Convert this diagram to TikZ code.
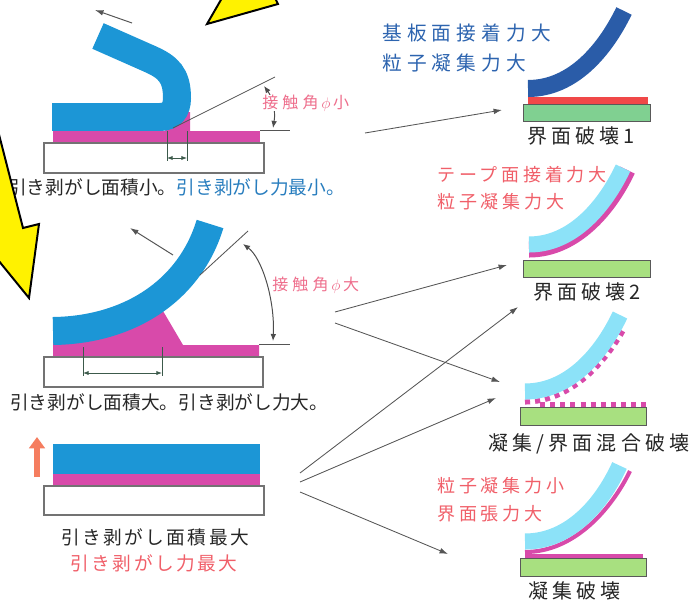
\documentclass[tikz,border=0pt]{standalone}
\usepackage{xcolor}
\usepackage{fontspec}
\usepackage{tikz}
\usetikzlibrary{positioning,calc,arrows.meta}
\newfontfamily\jp{Noto Sans CJK JP}
\newfontfamily\jpsp[LetterSpace=21]{Noto Sans CJK JP}
\newfontfamily\jpblue[LetterSpace=26]{Noto Sans CJK JP}
\newfontfamily\jpcap[LetterSpace=13]{Noto Sans CJK JP}
\definecolor{tapeblue}{RGB}{28,150,214}
\definecolor{gluepink}{RGB}{216,74,170}
\definecolor{darktape}{RGB}{42,92,168}
\definecolor{redlayer}{RGB}{240,72,72}
\definecolor{basegreen}{RGB}{128,208,145}
\definecolor{lightgreen}{RGB}{168,224,128}
\definecolor{lighttape}{RGB}{140,226,248}
\definecolor{textpink}{RGB}{240,95,105}
\definecolor{anglepink}{RGB}{238,110,140}
\definecolor{textblue}{RGB}{45,100,175}
\definecolor{captionblue}{RGB}{40,125,190}
\definecolor{linegray}{RGB}{85,85,85}
\definecolor{dimgray}{RGB}{60,90,75}
\definecolor{liftorange}{RGB}{245,125,95}

\begin{document}
\begin{tikzpicture}[x=0.025cm, y=-0.025cm,
    substrate/.style={draw=black!55, fill=white, line width=0.8pt},
    glue/.style={fill=gluepink},
    thicktape/.style={draw=tapeblue, line width=19.9pt},
    thintape/.style={draw=lighttape, line width=11.4pt},
    greenbase/.style={draw=black!65, fill=lightgreen, line width=0.7pt},
    pull/.style={draw=linegray, line width=0.7pt, -{Latex[length=6pt,width=4pt]}},
    link/.style={draw=linegray, line width=0.6pt, -{Latex[length=6pt,width=4pt]}},
    guide/.style={draw=linegray, line width=0.6pt},
    dimline/.style={draw=dimgray, line width=0.6pt},
    phiarc/.style={draw=black!70, line width=0.7pt, {Latex[length=5pt,width=4pt]}-{Latex[length=5pt,width=4pt]}},
    liftarrow/.style={draw=liftorange, line width=4.5pt, -{Triangle[length=8pt,width=11pt]}},
    bolt/.style={fill=yellow, draw=black, line width=1.4pt},
    labeltxt/.style={inner sep=0pt, anchor=west},
    midtxt/.style={inner sep=0pt}
]
\useasboundingbox (0,0) rectangle (696,604);

% small peel area
\fill[glue] (53,131) rectangle (260,142);
\fill[glue] (165,131) -- (190,131) -- (190,112) -- (178,112) -- cycle;
\draw[substrate] (44,143) rectangle (264,173);
\draw[thicktape] (52,117) -- (160,117) .. controls (171,117) and (177,110) .. (177,98) .. controls (177,75) and (168,67) .. (150,59) -- (98,36);
\draw[pull] (132,23) -- (95,10);
\draw[guide] (173,128) -- (275,77);
\draw[guide] (260,130) -- (290,130);
\draw[dimline] (167,131) -- (167,161) (187,131) -- (187,161);
\draw[dimline, {Latex[length=4pt,width=3pt]}-{Latex[length=4pt,width=3pt]}] (167,158) -- (187,158);
\draw[phiarc] (264,86) .. controls (272,97) and (276,110) .. (273,128);
\node[labeltxt, fill=white, text=anglepink, font=\jpblue\fontsize{11.4}{14}\selectfont] (phismall) at (262,103) {接触角\,$\phi$\,小};
\node[labeltxt, text=black!85, font=\jp\fontsize{13.3}{16}\selectfont] (capsmall) at (8,187) {引き剥がし面積小。\textcolor{captionblue}{引き剥がし力最小。}};

% large peel area
\fill[glue] (53,357) -- (259,357) -- (259,345) -- (183,345) -- (163,311) -- (120,322) -- (53,335) -- cycle;
\draw[substrate] (44,357) rectangle (263,387);
\draw[thicktape] (53,331) .. controls (130,330) and (190,290) .. (210,224);
\draw[pull] (173,255) -- (130,228);
\draw[guide] (200,275) -- (248,231);
\draw[guide] (259,344) -- (290,344);
\draw[phiarc] (243,244) .. controls (262,258) and (275,300) .. (273,341);
\draw[dimline] (83,347) -- (83,376) (162,347) -- (162,376);
\draw[dimline, {Latex[length=4pt,width=3pt]}-{Latex[length=4pt,width=3pt]}] (83,373) -- (162,373);
\node[labeltxt, text=anglepink, font=\jpblue\fontsize{11.4}{14}\selectfont] (phibig) at (272,285) {接触角\,$\phi$\,大};
\node[labeltxt, text=black!85, font=\jp\fontsize{13.3}{16}\selectfont] (capbig) at (10,402) {引き剥がし面積大。引き剥がし力大。};

% flat lift
\fill[tapeblue] (53,444) rectangle (260,474);
\fill[glue] (53,474) rectangle (260,486);
\draw[substrate] (44,486) rectangle (264,515);
\draw[liftarrow] (37,477) -- (37,437);
\node[midtxt, text=black!85, font=\jpcap\fontsize{13.3}{16}\selectfont] (capmax) at (155,537) {引き剥がし面積最大};
\node[midtxt, text=textpink, font=\jpcap\fontsize{13.3}{16}\selectfont] (capmaxforce) at (154,563) {引き剥がし力最大};

% interface failure 1
\begin{scope}[shift={(523,104)}]
  \fill[redlayer] (5,-7) rectangle (125,0);
  \draw[greenbase, fill=basegreen] (0,0) rectangle (127,17);
  \draw[draw=darktape, line width=12.1pt] (5,-15.5) .. controls (50,-15.5) and (82,-54) .. (101,-93);
\end{scope}
\node[labeltxt, text=textblue, font=\jpblue\fontsize{14}{17}\selectfont] (baseadh) at (382,33) {基板面接着力大};
\node[labeltxt, text=textblue, font=\jpblue\fontsize{14}{17}\selectfont] (cohbig1) at (382,63) {粒子凝集力大};
\node[labeltxt, text=black!85, font=\jpsp\fontsize{14.2}{17}\selectfont] (fail1) at (527,136) {界面破壊1};

% interface failure 2
\begin{scope}[shift={(523,260)}]
  \draw[greenbase] (0,0) rectangle (127,17);
  \draw[draw=gluepink, line width=11.4pt] (6,-10.5) .. controls (52,-10.5) and (86.5,-51.5) .. (104.5,-89.9);
  \draw[thintape] (6,-15.5) .. controls (50,-15.5) and (82,-54) .. (100,-92);
\end{scope}
\node[labeltxt, text=textpink, font=\jpsp\fontsize{12.8}{15}\selectfont] (tapeadh) at (437,175) {テープ面接着力大};
\node[labeltxt, text=textpink, font=\jpsp\fontsize{12.8}{15}\selectfont] (cohbig2) at (437,202) {粒子凝集力大};
\node[labeltxt, text=black!85, font=\jpsp\fontsize{14.2}{17}\selectfont] (fail2) at (533,292) {界面破壊2};

% mixed failure
\begin{scope}[shift={(520,407)}]
  \draw[greenbase] (0,0) rectangle (126,18);
  \draw[draw=gluepink, line width=3.6pt, dash pattern=on 3.6pt off 3.6pt] (20,-2.5) -- (126,-2.5);
  \draw[draw=gluepink, line width=3.6pt, dash pattern=on 3.6pt off 3.6pt] (5,-5) .. controls (49.1,-5) and (83.5,-41.5) .. (103.4,-76.8);
  \draw[thintape] (5,-15.5) .. controls (50,-15.5) and (82,-54) .. (100,-92);
\end{scope}
\node[labeltxt, text=black!85, font=\jpsp\fontsize{14.2}{17}\selectfont] (failmix) at (488,444) {凝集/界面混合破壊};

% cohesive failure
\begin{scope}[shift={(520,558)}]
  \draw[greenbase] (0,0) rectangle (126,18);
  \fill[gluepink] (5,-4) rectangle (123,0);
  \draw[draw=gluepink, line width=2.9pt] (5,-6) .. controls (55,-6) and (92,-50) .. (110,-87);
  \draw[thintape] (5,-16.5) .. controls (50,-16.5) and (82,-54) .. (99.5,-92.5);
\end{scope}
\node[labeltxt, text=textpink, font=\jpsp\fontsize{12.8}{15}\selectfont] (cohsmall) at (437,486) {粒子凝集力小};
\node[labeltxt, text=textpink, font=\jpsp\fontsize{12.8}{15}\selectfont] (tension) at (437,514) {界面張力大};
\node[labeltxt, text=black!85, font=\jpsp\fontsize{14.2}{17}\selectfont] (failcoh) at (528,591) {凝集破壊};

% connectors
\coordinate (smallout) at (365,133);
\coordinate (bigout1) at (335,312);
\coordinate (bigout2) at (335,323);
\coordinate (maxout1) at (300,473);
\coordinate (maxout2) at (300,482);
\coordinate (maxout3) at (300,492);
\coordinate (fail1in) at (502,110);
\coordinate (fail2in) at (507,265);
\coordinate (fail2low) at (518,307);
\coordinate (mixin1) at (500,382);
\coordinate (mixin2) at (496,398);
\coordinate (cohin) at (448,554);
\draw[link] (smallout) -- (fail1in);
\draw[link] (bigout1) -- (fail2in);
\draw[link] (bigout2) -- (mixin1);
\draw[link] (maxout1) -- (fail2low);
\draw[link] (maxout2) -- (mixin2);
\draw[link] (maxout3) -- (cohin);

% yellow arrows
\draw[bolt] (222,-2) -- (207,24) -- (278,4) -- (275,-2) -- cycle;
\draw[bolt] (-6,115) -- (23,228) -- (39,224) -- (29,298) -- (-6,255) -- cycle;
\end{tikzpicture}
\end{document}
